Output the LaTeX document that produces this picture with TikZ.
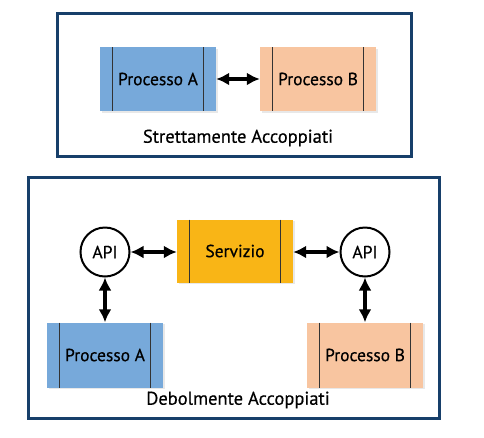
\documentclass[tikz,border=0pt]{standalone}
\usepackage{fontspec}
\setmainfont{PT Sans}[FakeBold=0.5]
\usetikzlibrary{arrows.meta,calc,shadows}
\definecolor{frame}{HTML}{173F6A}
\definecolor{procA}{HTML}{77A9DA}
\definecolor{procB}{HTML}{F8C5A0}
\definecolor{serv}{HTML}{F9B516}

\begin{document}
\begin{tikzpicture}[x=1pt,y=-1pt,
    proc/.style={rectangle, minimum width=116pt, minimum height=64pt,
            inner sep=0pt, font=\fontsize{17.5}{20}\selectfont,
            drop shadow={opacity=0.18, shadow xshift=1.5pt, shadow yshift=-1.5pt},
            path picture={
              \draw[black!80,line width=0.8pt]
                ([xshift=12pt]path picture bounding box.north west) --
                ([xshift=12pt]path picture bounding box.south west);
              \draw[black!80,line width=0.8pt]
                ([xshift=-13pt]path picture bounding box.north east) --
                ([xshift=-13pt]path picture bounding box.south east);}},
    api/.style={circle, draw, line width=2pt, fill=white, minimum size=49pt,
            inner sep=0pt, font=\fontsize{17.5}{20}\selectfont},
    box/.style={draw=frame, line width=3pt},
    caption/.style={font=\fontsize{18.5}{22}\selectfont},
    both/.style={{Latex[length=13pt,width=13pt]}-{Latex[length=13pt,width=13pt]},
            line width=3.5pt}]
  \useasboundingbox (0,0) rectangle (484,437);

  % strettamente accoppiati
  \draw[box] (57,13) rectangle (411,156);
  \node[proc,fill=procA] (A1) at (158,79) {Processo A};
  \node[proc,fill=procB] (B1) at (318,79) {Processo B};
  \node[caption] (L1) at (238,138) {Strettamente Accoppiati};
  \draw[both] (A1) -- (B1);

  % debolmente accoppiati
  \draw[box] (28,177) rectangle (439,418);
  \node[proc,fill=serv,minimum height=63pt] (S) at (235,251) {Servizio};
  \node[api] (P1) at (105,252) {API};
  \node[api] (P2) at (365,252) {API};
  \node[proc,fill=procA,minimum height=65pt] (A2) at (105,355) {Processo A};
  \node[proc,fill=procB,minimum height=65pt] (B2) at (365,355) {Processo B};
  \node[caption] (L2) at (238,400) {Debolmente Accoppiati};
  \draw[both] (P1) -- (P1 -| S.west);
  \draw[both] (P2 -| S.east) -- (P2);
  \draw[both] (P1) -- (A2);
  \draw[both] (P2) -- (B2);
\end{tikzpicture}
\end{document}
